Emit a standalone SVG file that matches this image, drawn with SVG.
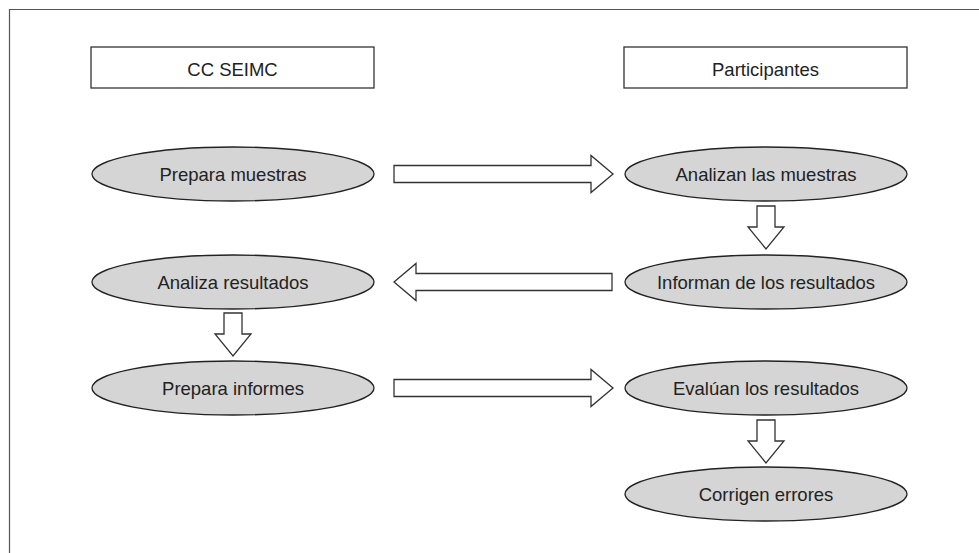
<svg xmlns="http://www.w3.org/2000/svg" width="979" height="553" viewBox="0 0 979 553">
<style>
.frame{fill:none;stroke:#555;stroke-width:1.2}
.box{fill:#fff;stroke:#333;stroke-width:1.3}
.ell{fill:#d5d5d5;stroke:#222;stroke-width:1.3}
.arr{fill:#fff;stroke:#333;stroke-width:1.3;stroke-linejoin:miter}
text{font-family:"Liberation Sans",Arial,Helvetica,sans-serif;font-size:18.5px;fill:#222;text-anchor:middle}
</style>
<rect width="979" height="553" fill="#fff"/>
<path class="frame" d="M9.5,553 V9.5 H979"/>
<g id="hdr-ccseimc"><rect class="box" x="91" y="47" width="283" height="41"/><text x="232.5" y="76">CC SEIMC</text></g>
<g id="hdr-participantes"><rect class="box" x="624" y="47" width="283" height="41"/><text x="765.5" y="76">Participantes</text></g>
<g id="n-prepara-muestras"><ellipse class="ell" cx="233" cy="174" rx="141" ry="27"/><text x="233" y="180.5">Prepara muestras</text></g>
<g id="n-analizan"><ellipse class="ell" cx="766" cy="174" rx="141" ry="27"/><text x="766" y="180.5">Analizan las muestras</text></g>
<g id="n-analiza-resultados"><ellipse class="ell" cx="233" cy="282" rx="141" ry="27"/><text x="233" y="288.5">Analiza resultados</text></g>
<g id="n-informan"><ellipse class="ell" cx="766" cy="282" rx="141" ry="27"/><text x="766" y="288.5">Informan de los resultados</text></g>
<g id="n-prepara-informes"><ellipse class="ell" cx="233" cy="388" rx="141" ry="27"/><text x="233" y="394.5">Prepara informes</text></g>
<g id="n-evaluan"><ellipse class="ell" cx="766" cy="388" rx="141" ry="27"/><text x="766" y="394.5">Evalúan los resultados</text></g>
<g id="n-corrigen"><ellipse class="ell" cx="766" cy="494" rx="141" ry="27"/><text x="766" y="500.5">Corrigen errores</text></g>
<g id="connectors">
<path class="arr" d="M394,165.5 H591 V155.5 L613,174 L591,192.5 V182.5 H394 Z"/>
<path class="arr" d="M757,206 H775 V227 H784 L766,249 L748,227 H757 Z"/>
<path class="arr" d="M612,273.5 H416 V263.5 L394,282 L416,300.5 V290.5 H612 Z"/>
<path class="arr" d="M224,313 H242 V334 H251 L233,356 L215,334 H224 Z"/>
<path class="arr" d="M394,379.5 H591 V369.5 L613,388 L591,406.5 V396.5 H394 Z"/>
<path class="arr" d="M757,420 H775 V441 H784 L766,463 L748,441 H757 Z"/>
</g>
</svg>
